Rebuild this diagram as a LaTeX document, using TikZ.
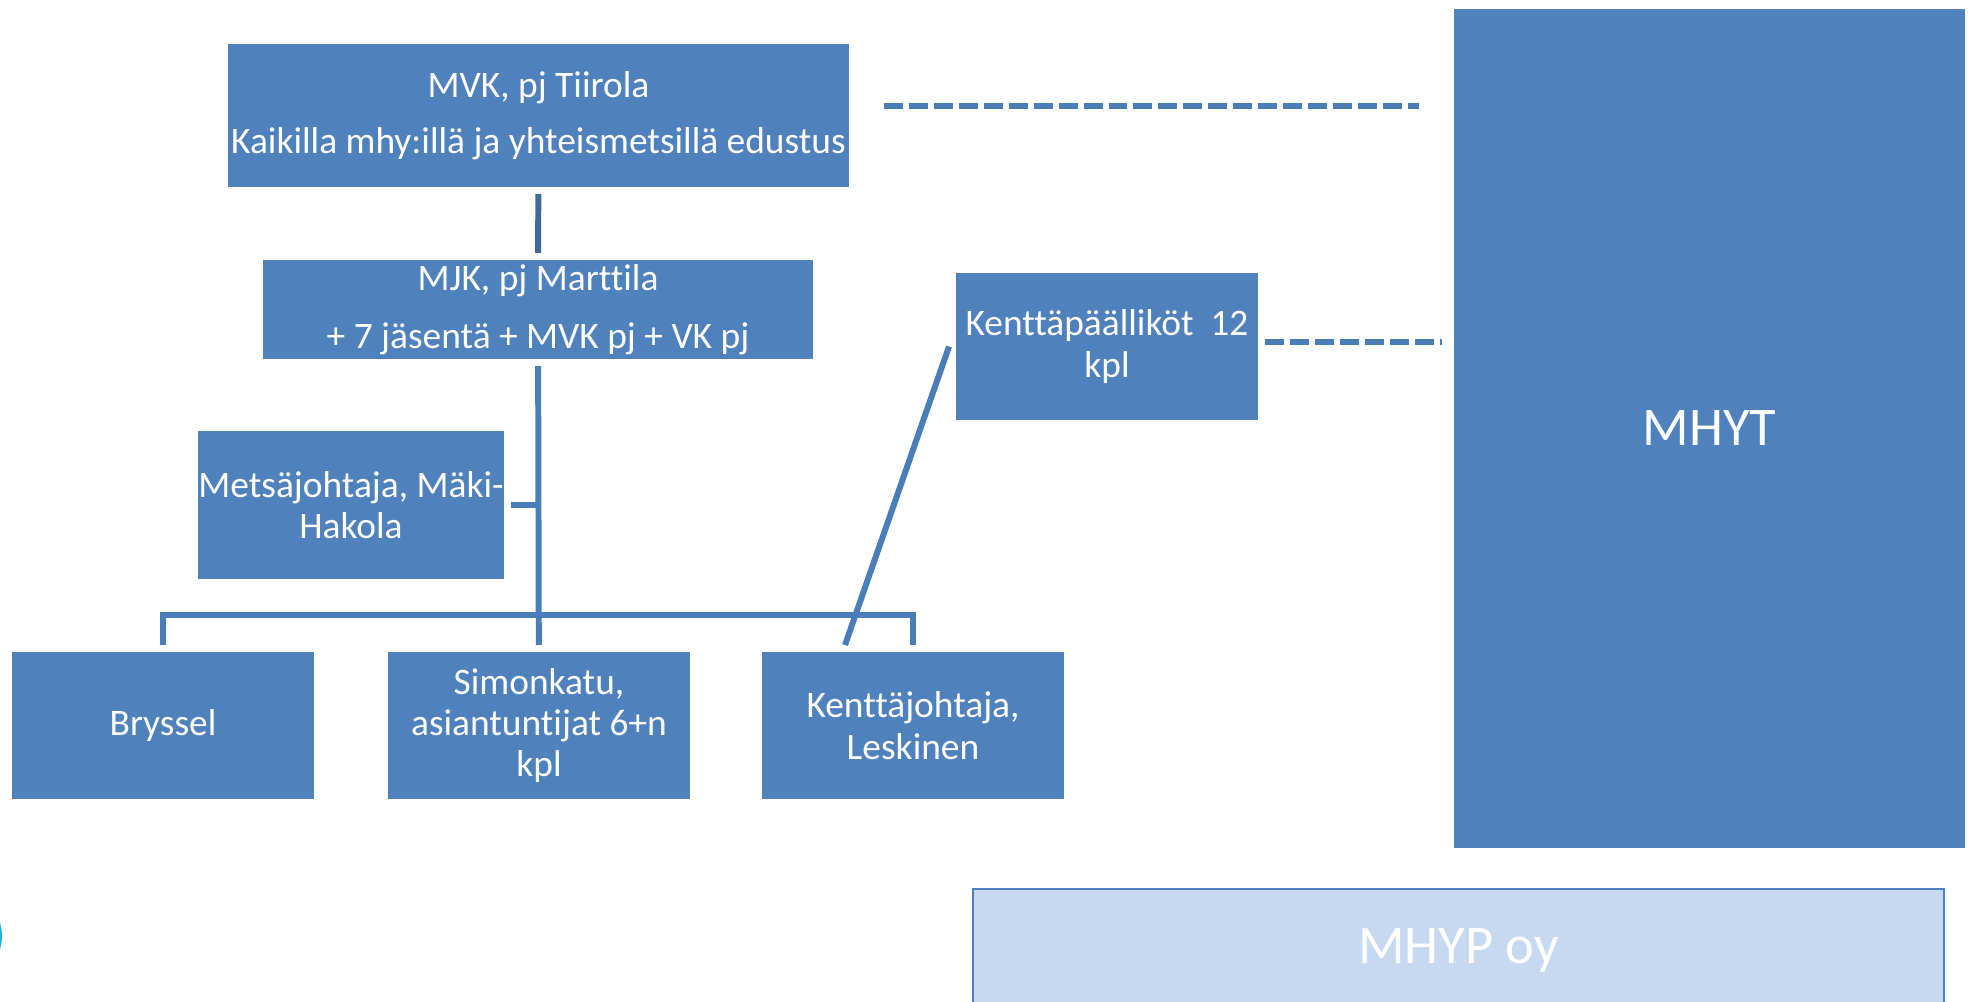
\documentclass[tikz,border=0pt]{standalone}
\usepackage{fontspec}
\setmainfont{Carlito}[Ligatures={NoCommon,TeX}]
\usepackage{tikz}
\usetikzlibrary{positioning,calc}
\definecolor{laatikkosini}{HTML}{4F81BD}
\definecolor{viivasini}{HTML}{4A7EBB}
\definecolor{tummasini}{HTML}{3D6A9B}
\definecolor{vaaleasini}{HTML}{C6D9F1}
\definecolor{turkoosi}{HTML}{1EB4F0}
\tikzset{
  laatikko/.style={fill=laatikkosini, text=white, align=center, inner sep=0pt, outer sep=4pt,
    minimum width=6.04cm, minimum height=2.94cm, font=\fontsize{21.3}{23.5}\selectfont},
  yhteys/.style={viivasini, line width=3.4pt},
  katko/.style={viivasini, line width=3.4pt, dash pattern=on 10.8pt off 3.4pt},
}

\begin{document}
\begin{tikzpicture}[x=0.02cm,y=-0.02cm]
%Alles in Pixeln des Vorbilds: 1 px = 0.02 cm, y nach unten
\useasboundingbox (0,0) rectangle (1973,1001);
%angeschnittener Kreis am linken Rand
\fill[turkoosi] (-43,936) circle (0.9cm);
  \pgfmathsetmacro{\haaraY}{615}
%obere Boxen
\node[laatikko, minimum width=12.42cm, minimum height=2.86cm] (mvk) at (538.5,115.5)
  {MVK, pj Tiirola\\[8.5pt]Kaikilla mhy:illä ja yhteismetsillä edustus};
\node[laatikko, minimum width=11cm, minimum height=1.98cm] (mjk) at (538,309.5)
  {MJK, pj Marttila\\[9.5pt]+ 7 jäsentä + MVK pj + VK pj};
\node[laatikko, minimum height=2.96cm] (mets) at (351,505) {Metsäjohtaja, Mäki-\\Hakola};
\node[laatikko] (kpaal) at (1107,346.5) {Kenttäpäälliköt\ \ 12\\kpl};
%untere Reihe
\foreach \nimi/\x/\teksti in {bryssel/163/Bryssel, simon/539/{Simonkatu,\\asiantuntijat 6+n\\kpl}, kenttaj/913/{Kenttäjohtaja,\\Leskinen}}{
\node[laatikko] (\nimi) at (\x,725.5) {\teksti};
}
%rechts
\node[laatikko, minimum width=10.22cm, minimum height=16.78cm, font=\fontsize{31}{37}\selectfont] (mhyt) at (1709.5,428.5) {MHYT};
\node[laatikko, fill=vaaleasini, draw=laatikkosini, line width=1.1pt, minimum width=19.42cm, minimum height=2.44cm,
  font=\fontsize{31}{37}\selectfont] (mhyp) at (1458.5,950) {MHYP oy};
%Verbindungen
\coordinate (haara) at (539,\haaraY);
\draw[yhteys, tummasini] (mvk) -- (mjk);
\draw[yhteys] (mjk) -- (simon);
\draw[yhteys] (bryssel.north) |- (haara) -| (kenttaj.north);
\draw[yhteys] (mets.east) -- (mets.east -| mjk.south);
\draw[yhteys] ([xshift=-1.36cm]kenttaj.north) -- (kpaal.west);
%gestrichelt zu MHYT
\coordinate (mvkoik) at ([yshift=0.19cm]mvk.east);
\coordinate (kpoik) at ([yshift=0.09cm]kpaal.east);
\draw[katko, shorten <=0.56cm, shorten >=0.56cm] (mvkoik) -- (mvkoik -| mhyt.west);
\draw[katko, shorten >=0.1cm] (kpoik) -- (kpoik -| mhyt.west);
\end{tikzpicture}
\end{document}
